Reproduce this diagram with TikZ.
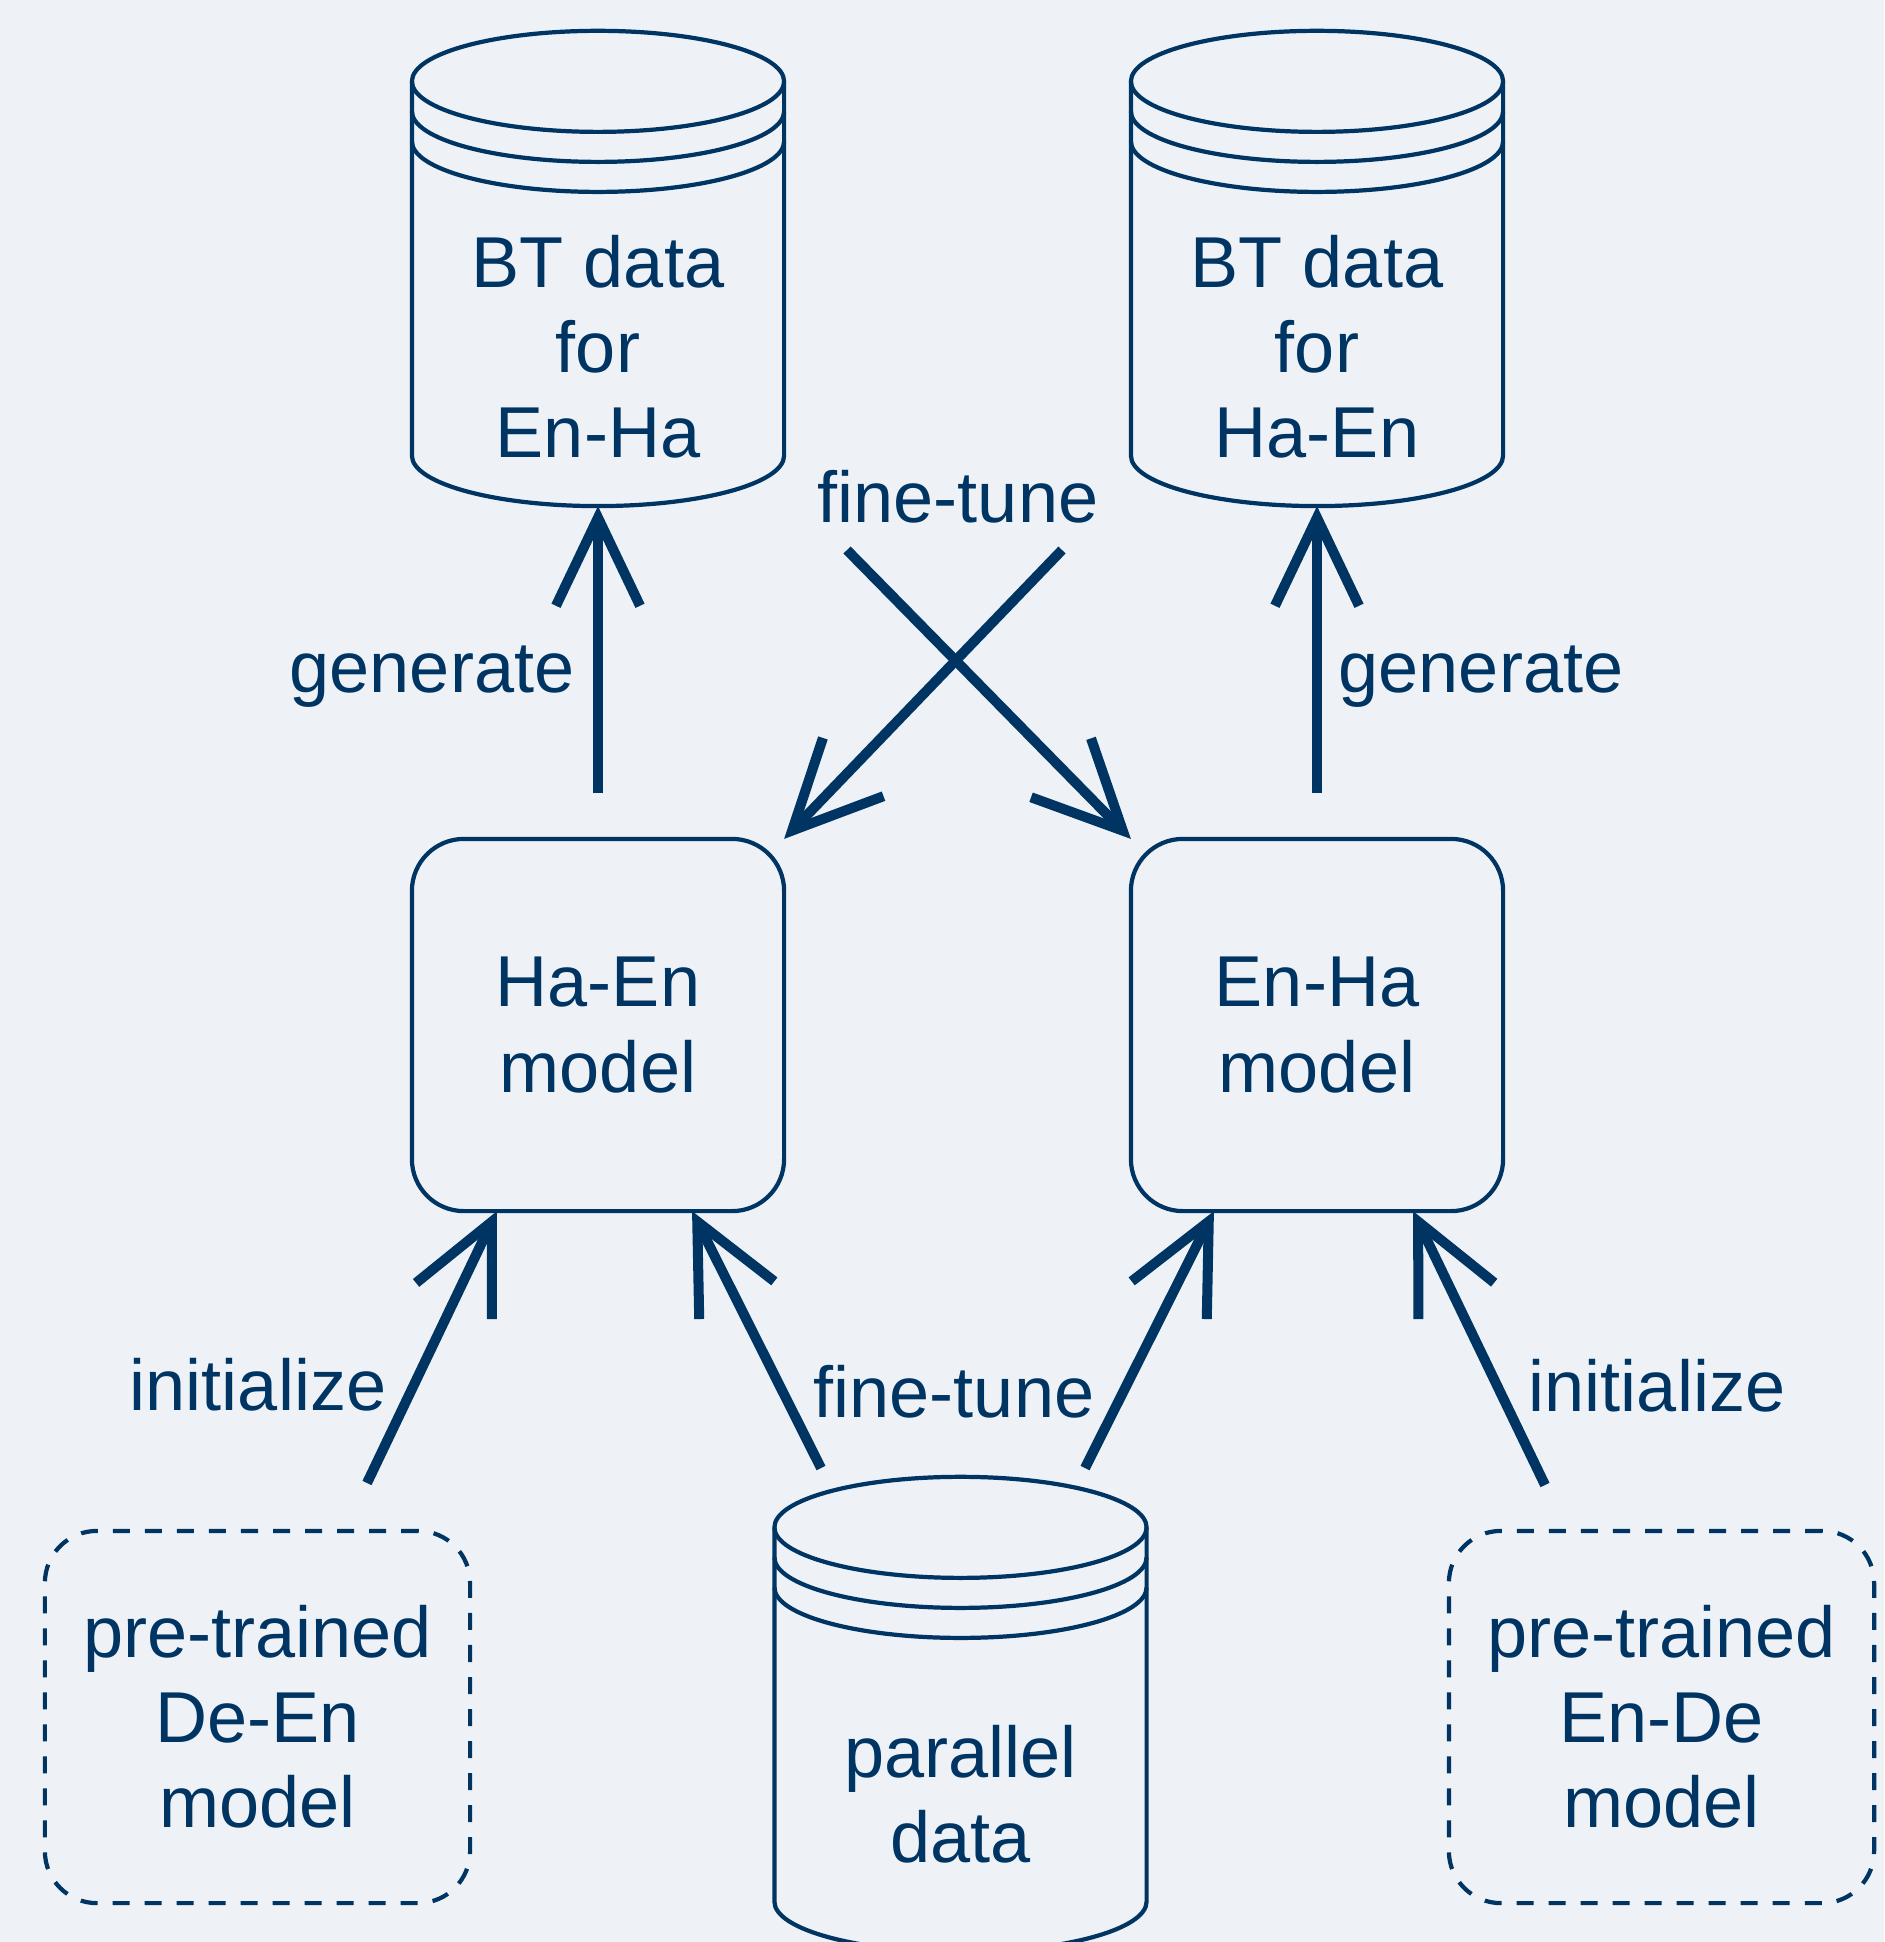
\documentclass[tikz,border=0pt]{standalone}
\usepackage{fontspec}
\setmainfont{Liberation Sans}
\usetikzlibrary{arrows.meta}
\definecolor{navy}{HTML}{003462}
\definecolor{bgcol}{HTML}{EEF2F6}

\begin{document}
\begin{tikzpicture}[
  x=0.01cm, y=-0.01cm,
  every node/.style={font=\fontsize{20.5pt}{24.2pt}\selectfont, text=navy, align=center, inner sep=0pt, outer sep=0pt},
  db/.style={minimum width=3.72cm, minimum height=3.18cm},
  model/.style={draw=navy, line width=1.2pt, rounded corners=0.52cm, minimum width=3.72cm, minimum height=3.72cm},
  pretrained/.style={model, minimum width=4.25cm, dash pattern=on 0.17cm off 0.15cm},
  lbl/.style={anchor=base},
  outline/.style={draw=navy, line width=1.2pt},
  flow/.style={draw=navy, line width=2.85pt, -{Straight Barb[length=0.88cm, width=0.84cm, sharp]}}
]
\fill[bgcol] (0,0) rectangle (1884,1942);
\useasboundingbox (0,0) rectangle (1884,1942);

\node[db] (btenha) at (598,347) {BT data\\for\\En-Ha};
\node[db] (bthaen) at (1317,347) {BT data\\for\\Ha-En};
\node[model] (hae) at (598,1025) {Ha-En\\model};
\node[model] (enh) at (1317,1025) {En-Ha\\model};
\node[pretrained] (pde) at (257.5,1717) {pre-trained\\De-En\\model};
\node[pretrained] (pen) at (1661.5,1717) {pre-trained\\En-De\\model};
\node[db, minimum height=3.15cm] (par) at (960.5,1794.5) {parallel\\data};

\foreach \n in {btenha,bthaen,par} {
  \draw[outline] ([yshift=0.505cm]\n.south west) -- ([yshift=4.245cm]\n.south west)
    arc[start angle=180, end angle=0, x radius=1.86cm, y radius=0.505cm]
    -- ([yshift=0.505cm]\n.south east)
    arc[start angle=0, end angle=-180, x radius=1.86cm, y radius=0.505cm] -- cycle;
  \foreach \h in {4.245,3.945,3.645}
    \draw[outline] ([yshift=\h cm]\n.south west) arc[start angle=180, end angle=360, x radius=1.86cm, y radius=0.505cm];
}

\coordinate (ftL) at (847,550);
\coordinate (ftR) at (1062,550);
\coordinate (pdeout) at (367,1483);
\coordinate (parL) at (821,1468);
\coordinate (parR) at (1085,1468);
\coordinate (penout) at (1545,1485);

\draw[flow, shorten <=0.46cm] (hae.north) -- (btenha.south);
\draw[flow, shorten <=0.46cm] (enh.north) -- (bthaen.south);
\draw[flow] (ftR) -- (hae.north east);
\draw[flow] (ftL) -- (enh.north west);
\draw[flow] (pdeout) -- ([xshift=-1.01cm]hae.south);
\draw[flow] (parL) -- ([xshift=0.94cm]hae.south);
\draw[flow] (parR) -- ([xshift=-1.03cm]enh.south);
\draw[flow] (penout) -- ([xshift=0.96cm]enh.south);

\node[lbl] (genL) at (432,692) {generate};
\node[lbl] (genR) at (1481,692) {generate};
\node[lbl] (ftTop) at (958,522) {fine-tune};
\node[lbl] (initL) at (258,1410) {initialize};
\node[lbl] (ftBot) at (954,1417) {fine-tune};
\node[lbl] (initR) at (1657,1411) {initialize};
\end{tikzpicture}
\end{document}
